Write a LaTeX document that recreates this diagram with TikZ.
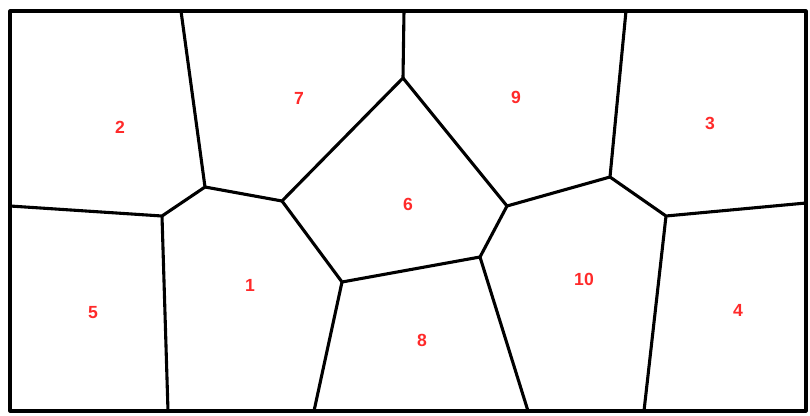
\documentclass[tikz,border=0pt]{standalone}
\usepackage{fontspec}
\setmainfont{Liberation Sans}
\usetikzlibrary{positioning}
\definecolor{cellred}{HTML}{FF2A2A}

\tikzset{
  edge/.style={draw=black, line width=2.2pt, line join=round},
  cell/.style={text=cellred, font=\fontsize{12.5}{14}\selectfont\bfseries, inner sep=0pt}
}

\begin{document}
\begin{tikzpicture}[x=0.025cm,y=-0.025cm]
\useasboundingbox (0,0) rectangle (810,415);
% frame
\coordinate (tl) at (10,11);
\coordinate (br) at (806,411);
\draw[edge] (tl) rectangle (br);
% vertices
\coordinate (va) at (205,187);
\coordinate (vb) at (162,216);
\coordinate (vc) at (282,201);
\coordinate (vd) at (403,78);
\coordinate (ve) at (342,282);
\coordinate (vf) at (480,257);
\coordinate (vg) at (507,206);
\coordinate (vh) at (610,177);
\coordinate (vi) at (666,216);
% ends on the frame
\coordinate (ta) at (181,11);
\coordinate (td) at (404,11);
\coordinate (th) at (626,11);
\coordinate (lb) at (10,206);
\coordinate (ri) at (806,203);
\coordinate (bb) at (168,411);
\coordinate (be) at (314,411);
\coordinate (bf) at (528,411);
\coordinate (bi) at (644,411);
% edges
\draw[edge] (ta) -- (va) -- (vb) -- (lb);
\draw[edge] (vb) -- (bb);
\draw[edge] (va) -- (vc) -- (vd) -- (td);
\draw[edge] (vd) -- (vg) -- (vf) -- (ve) -- (vc);
\draw[edge] (ve) -- (be);
\draw[edge] (vf) -- (bf);
\draw[edge] (vg) -- (vh) -- (th);
\draw[edge] (vh) -- (vi) -- (ri);
\draw[edge] (vi) -- (bi);
% labels
\node[cell] (c1) at (250,285) {1};
\node[cell] (c2) at (120,127) {2};
\node[cell] (c3) at (710,123) {3};
\node[cell] (c4) at (738,310) {4};
\node[cell] (c5) at (93,313) {5};
\node[cell] (c6) at (408,204) {6};
\node[cell] (c7) at (299,98) {7};
\node[cell] (c8) at (422,340) {8};
\node[cell] (c9) at (516,97) {9};
\node[cell] (c10) at (584,279) {10};
\end{tikzpicture}
\end{document}
